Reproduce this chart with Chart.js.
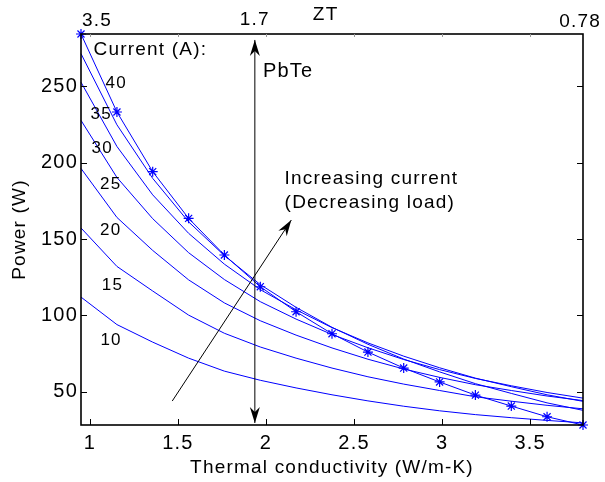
<!DOCTYPE html>
<html>
<head>
<meta charset="utf-8">
<script src="https://cdn.jsdelivr.net/npm/chart.js@4/dist/chart.umd.min.js"></script>
<style>
  html, body { margin: 0; padding: 0; background: #fff; }
  #wrap { width: 605px; height: 482px; }
</style>
</head>
<body>
<div id="wrap"><canvas id="c" width="605" height="482"></canvas></div>
<script>
// Thermal conductivity of the legs (W/m-K)
const kappa = [0.950, 1.154, 1.357, 1.561, 1.764, 1.968, 2.171, 2.375, 2.579, 2.782, 2.986, 3.189, 3.393, 3.596, 3.800];

// Output power (W) for each load current
const p10 = [112.0, 94.0, 82.5, 72.0, 63.5, 57.5, 52.5, 48.0, 44.0, 40.5, 37.5, 35.0, 33.0, 31.2, 29.6];
const p15 = [157.3, 132.1, 116.0, 100.2, 88.3, 79.3, 72.0, 65.5, 59.8, 55.0, 50.8, 46.7, 43.8, 41.1, 38.8];
const p20 = [196.3, 164.2, 142.6, 123.3, 108.2, 96.5, 87.1, 78.7, 71.3, 64.9, 59.4, 54.6, 50.8, 47.2, 44.2];
const p25 = [227.8, 190.4, 163.4, 141.1, 123.5, 109.0, 97.6, 87.5, 78.8, 71.1, 64.5, 58.7, 53.9, 49.5, 45.8];
const p30 = [252.8, 210.7, 179.0, 153.8, 133.6, 116.9, 103.7, 92.0, 82.0, 73.3, 65.7, 58.9, 53.3, 48.0, 43.7];
const p35 = [271.5, 224.9, 189.8, 161.3, 139.2, 120.2, 105.3, 92.2, 81.1, 71.4, 63.0, 55.3, 48.9, 42.7, 37.8];
const p40 = [284.4, 233.3, 194.2, 163.6, 139.6, 118.8, 102.4, 88.0, 76.0, 65.5, 56.4, 47.8, 40.6, 33.6, 28.2];

const currents = ['10', '15', '20', '25', '30', '35', '40'];
const powerSeries = [p10, p15, p20, p25, p30, p35, p40];

// Axis ticks
const xTicks = [1, 1.5, 2, 2.5, 3, 3.5];
const yTicks = [50, 100, 150, 200, 250];

// ZT values marked along the top edge
const ztValues = ['3.5', '1.7', '0.78'];
const ztAt = [0.95, 1.937, 3.8];

// Where each current label sits (data coordinates)
const currentLabelPos = [
  [1.121, 83.7], [1.129, 119.9], [1.119, 156.0], [1.119, 186.0],
  [1.070, 209.5], [1.065, 231.9], [1.150, 251.8]
];

const BLUE = '#0000ff';
const FONT = '"Liberation Sans", Arial, Helvetica, sans-serif';
Chart.defaults.font.family = FONT;
Chart.defaults.color = '#000';

const datasets = powerSeries.map((vals, i) => {
  const isMax = i === powerSeries.length - 1;
  return {
    label: currents[i] + ' A',
    data: kappa.map((k, j) => ({ x: k, y: vals[j] })),
    borderColor: BLUE,
    backgroundColor: BLUE,
    borderWidth: 1,
    tension: 0,
    fill: false,
    clip: false,
    pointStyle: 'star',
    pointRadius: isMax ? 5 : 0,
    pointBorderWidth: 1.2,
    pointBorderColor: BLUE,
    pointHoverRadius: 0
  };
});

function arrowHead(ctx, tx, ty, fx, fy) {
  const dx = tx - fx, dy = ty - fy;
  const len = Math.hypot(dx, dy);
  const ux = dx / len, uy = dy / len;
  const nx = -uy, ny = ux;
  const L = 16, W = 5, N = 11;
  ctx.beginPath();
  ctx.moveTo(tx, ty);
  ctx.lineTo(tx - ux * L + nx * W, ty - uy * L + ny * W);
  ctx.lineTo(tx - ux * N, ty - uy * N);
  ctx.lineTo(tx - ux * L - nx * W, ty - uy * L - ny * W);
  ctx.closePath();
  ctx.fill();
}

const decor = {
  id: 'decor',
  beforeDraw(chart) {
    const ctx = chart.ctx;
    ctx.save();
    ctx.fillStyle = '#fff';
    ctx.fillRect(0, 0, chart.width, chart.height);
    ctx.restore();
    ctx.letterSpacing = '1.2px';
  },
  afterDatasetsDraw(chart) {
    const { ctx, scales: { x, y } } = chart;
    ctx.save();
    ctx.strokeStyle = '#000';
    ctx.fillStyle = '#000';
    ctx.lineWidth = 1;

    // PbTe marker: double-headed vertical arrow
    const vx = x.getPixelForValue(ztAt[1]);
    const vy0 = y.getPixelForValue(29.5), vy1 = y.getPixelForValue(280.5);
    ctx.beginPath(); ctx.moveTo(vx, vy0); ctx.lineTo(vx, vy1); ctx.stroke();
    arrowHead(ctx, vx, vy1, vx, vy0);
    arrowHead(ctx, vx, vy0, vx, vy1);

    // Increasing current arrow
    const ax0 = x.getPixelForValue(1.468), ay0 = y.getPixelForValue(43.9);
    const ax1 = x.getPixelForValue(2.144), ay1 = y.getPixelForValue(162.5);
    ctx.beginPath(); ctx.moveTo(ax0, ay0); ctx.lineTo(ax1, ay1); ctx.stroke();
    arrowHead(ctx, ax1, ay1, ax0, ay0);

    // Text annotations
    ctx.textBaseline = 'middle';
    ctx.textAlign = 'left';
    ctx.font = '19px ' + FONT;
    ctx.fillText('Current (A):', x.getPixelForValue(1.021), y.getPixelForValue(273.9));
    ctx.font = '20px ' + FONT;
    ctx.fillText('PbTe', x.getPixelForValue(1.983), y.getPixelForValue(259.7));
    ctx.font = '19px ' + FONT;
    ctx.fillText('Increasing current', x.getPixelForValue(2.106), y.getPixelForValue(189.4));
    ctx.fillText('(Decreasing load)', x.getPixelForValue(2.106), y.getPixelForValue(174.0));

    ctx.textAlign = 'center';
    ctx.font = '17px ' + FONT;
    currents.forEach((c, i) => {
      const [lx, ly] = currentLabelPos[i];
      ctx.fillText(c, x.getPixelForValue(lx), y.getPixelForValue(ly));
    });
    ctx.restore();
  },
  afterDraw(chart) {
    const { ctx, chartArea: a, scales: { x, y } } = chart;
    ctx.save();
    // Axes box
    ctx.strokeStyle = '#000';
    ctx.lineWidth = 1.6;
    ctx.strokeRect(a.left, a.top, a.right - a.left, a.bottom - a.top);

    // Inward tick marks
    ctx.lineWidth = 1;
    ctx.beginPath();
    xTicks.forEach(v => {
      const px = Math.round(x.getPixelForValue(v)) + 0.5;
      ctx.moveTo(px, a.bottom); ctx.lineTo(px, a.bottom - 6);
    });
    yTicks.forEach(v => {
      const py = Math.round(y.getPixelForValue(v)) + 0.5;
      ctx.moveTo(a.left, py); ctx.lineTo(a.left + 6, py);
      ctx.moveTo(a.right, py); ctx.lineTo(a.right - 6, py);
    });
    ctx.stroke();
    ctx.strokeStyle = '#999';
    ctx.beginPath();
    xTicks.forEach(v => {
      const px = Math.round(x.getPixelForValue(v)) + 0.5;
      ctx.moveTo(px, a.top); ctx.lineTo(px, a.top + 3);
    });
    ctx.stroke();

    // ZT scale along the top edge
    ctx.fillStyle = '#000';
    ctx.textBaseline = 'middle';
    ctx.font = '19px ' + FONT;
    ctx.textAlign = 'left';
    ctx.fillText(ztValues[0], x.getPixelForValue(ztAt[0]) + 1, a.top - 13);
    ctx.textAlign = 'center';
    ctx.fillText(ztValues[1], x.getPixelForValue(ztAt[1]), a.top - 14.5);
    ctx.textAlign = 'right';
    ctx.fillText(ztValues[2], x.getPixelForValue(ztAt[2]) + 18, a.top - 12.5);
    ctx.textAlign = 'center';
    ctx.fillText('ZT', x.getPixelForValue(2.339), a.top - 19.5);
    ctx.restore();
  }
};

new Chart(document.getElementById('c'), {
  type: 'line',
  data: { datasets },
  options: {
    responsive: false,
    devicePixelRatio: 1,
    animation: false,
    events: [],
    layout: { padding: { top: 34, right: 22, bottom: 0, left: 0 } },
    plugins: { legend: { display: false }, tooltip: { enabled: false } },
    scales: {
      x: {
        type: 'linear',
        min: 0.95,
        max: 3.8,
        afterBuildTicks: s => { s.ticks = xTicks.map(v => ({ value: v })); },
        afterFit: s => { s.height = 57; },
        grid: { display: false, drawTicks: false },
        border: { display: false },
        ticks: {
          font: { size: 20 },
          color: '#000',
          padding: 6,
          maxRotation: 0,
          autoSkip: false,
          callback: v => String(v)
        },
        title: {
          display: true,
          text: 'Thermal conductivity (W/m-K)',
          font: { size: 19 },
          color: '#000',
          padding: { top: 0, bottom: 3 }
        }
      },
      y: {
        type: 'linear',
        min: 28.2,
        max: 284.4,
        afterBuildTicks: s => { s.ticks = yTicks.map(v => ({ value: v })); },
        afterFit: s => { s.width = 81; },
        grid: { display: false, drawTicks: false },
        border: { display: false },
        ticks: {
          font: { size: 20 },
          color: '#000',
          padding: 3,
          autoSkip: false,
          callback: v => String(v)
        },
        title: {
          display: true,
          text: 'Power (W)',
          font: { size: 19 },
          color: '#000',
          padding: { top: 8, bottom: 0 }
        }
      }
    }
  },
  plugins: [decor]
});
</script>
</body>
</html>
